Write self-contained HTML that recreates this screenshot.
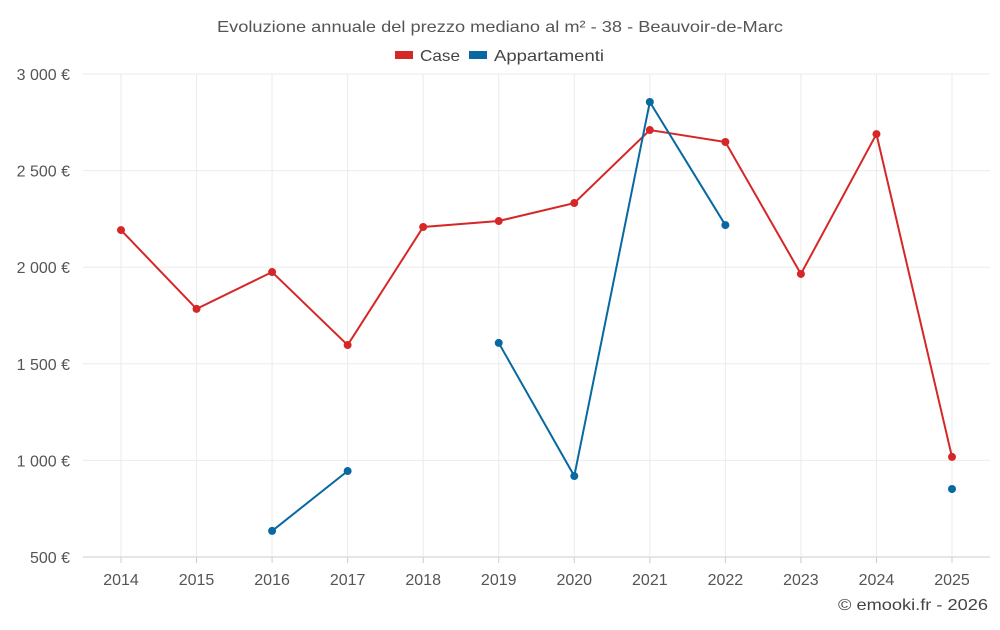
<!DOCTYPE html>
<html><head><meta charset="utf-8"><style>
body{margin:0;background:#fff;font-family:"Liberation Sans",sans-serif;}
svg text{font-family:"Liberation Sans",sans-serif;}
</style></head><body>
<svg id="chart" width="1000" height="625">
<text x="500" y="32" text-anchor="middle" font-size="16" fill="#555" textLength="566" lengthAdjust="spacingAndGlyphs">Evoluzione annuale del prezzo mediano al m² - 38 - Beauvoir-de-Marc</text>
<g>
<g><rect x="395" y="51" width="18" height="8" fill="#d62728"/><text x="420" y="61" font-size="16" fill="#444" textLength="40" lengthAdjust="spacingAndGlyphs">Case</text></g>
<g><rect x="469" y="51" width="18" height="8" fill="#0868a0"/><text x="494" y="61" font-size="16" fill="#444" textLength="110" lengthAdjust="spacingAndGlyphs">Appartamenti</text></g>
</g>
<g id="grid"></g>
<g id="axes"></g>
<g id="series"></g>
<text x="988" y="610" text-anchor="end" font-size="16" fill="#444" textLength="150" lengthAdjust="spacingAndGlyphs">© emooki.fr - 2026</text>
</svg>
<script>
const years=[2014,2015,2016,2017,2018,2019,2020,2021,2022,2023,2024,2025];
const caseVals=[2192,1784,1975,1597,2208,2239,2332,2710,2648,1965,2689,1018];
const appVals=[null,null,635,945,null,1608,919,2855,2218,null,null,852];
const yTicks=[500,1000,1500,2000,2500,3000];
const yTickLabels=["500 €","1 000 €","1 500 €","2 000 €","2 500 €","3 000 €"];
const NS="http://www.w3.org/2000/svg";
const L=83,R=990,T=74,B=557;
function x(i){return 121+i*(952-121)/(years.length-1);}
function y(v){return B-(v-500)/(3000-500)*(B-T);}
function mk(tag,attrs,parent){const e=document.createElementNS(NS,tag);for(const k in attrs)e.setAttribute(k,attrs[k]);parent.appendChild(e);return e;}
const grid=document.getElementById('grid'),axes=document.getElementById('axes'),series=document.getElementById('series');
yTicks.forEach((t,i)=>{
 const ln=mk('line',{x1:L,x2:R,y1:y(t),y2:y(t),stroke:i==0?'#ccc':'#ebebeb','stroke-width':1},grid);
 
 
 const tx=mk('text',{x:70,y:y(t)+6,'text-anchor':'end','font-size':16,fill:'#555'},axes);
 tx.textContent=yTickLabels[i];
 
 
});
years.forEach((yr,i)=>{
 const ln=mk('line',{x1:x(i),x2:x(i),y1:T,y2:B,stroke:'#ebebeb','stroke-width':1},grid);
 
 
 const tk=mk('line',{x1:x(i),x2:x(i),y1:B,y2:B+6,stroke:'#ccc'},axes);
 
 
 const tx=mk('text',{x:x(i),y:585,'text-anchor':'middle','font-size':16,fill:'#555'},axes);
 tx.textContent=yr;
 
 
});
function draw(vals,color,name){
 let d='',pen=false;
 vals.forEach((v,i)=>{if(v==null){pen=false;return;}d+=(pen?'L':'M')+x(i)+' '+y(v)+' ';pen=true;});
 const p=mk('path',{d:d,fill:'none',stroke:color,'stroke-width':2},series);
 
 
 vals.forEach((v,i)=>{if(v==null)return;
  const c=mk('circle',{cx:x(i),cy:y(v),r:4,fill:color},series);
  
  
 });
}
draw(caseVals,'#d62728','case');
draw(appVals,'#0868a0','appartamenti');
</script>
</body></html>
